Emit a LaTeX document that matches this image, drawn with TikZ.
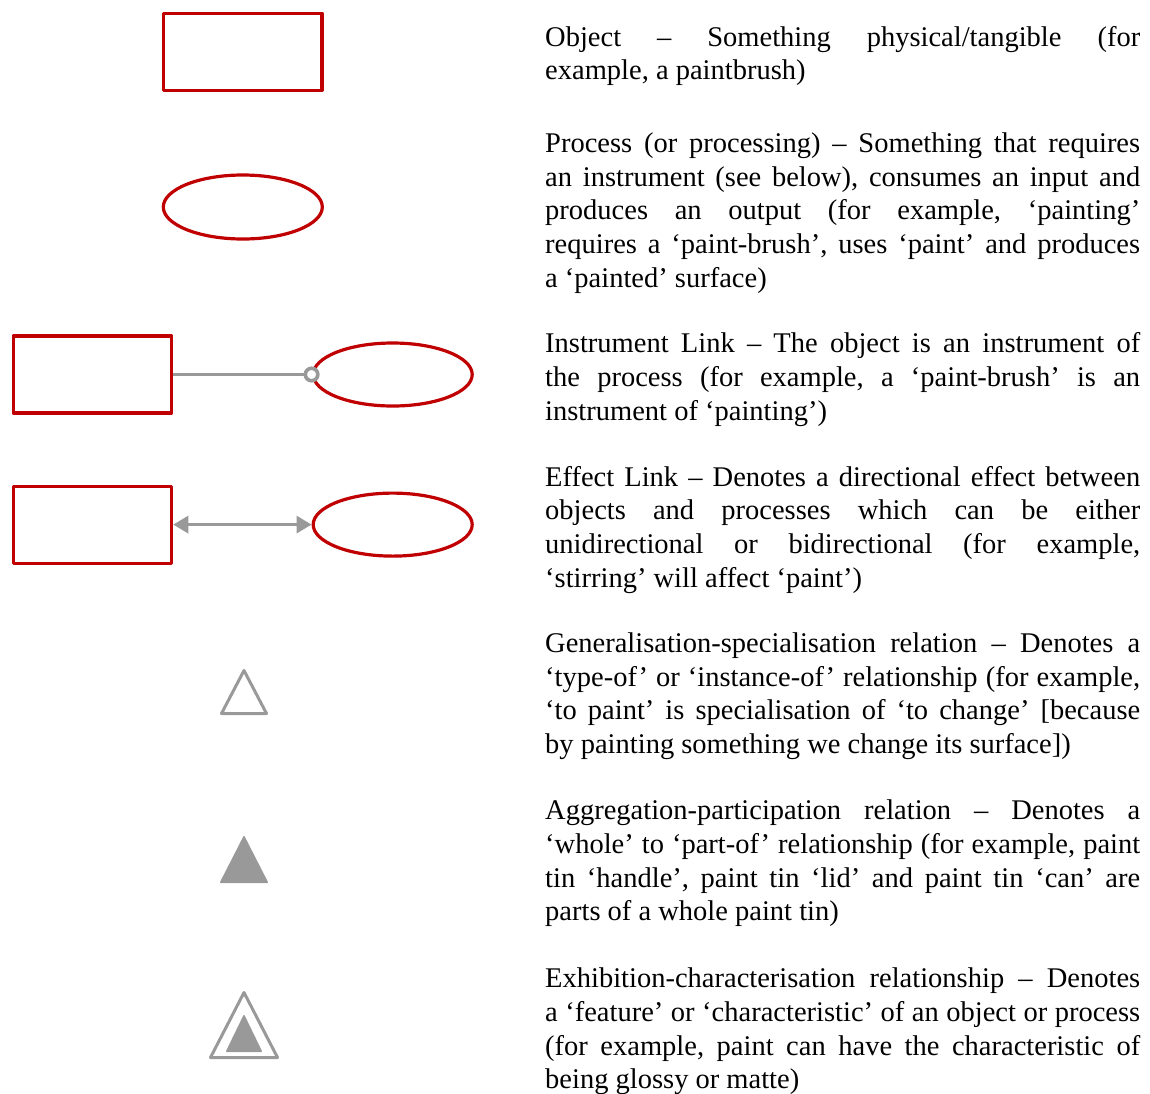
\documentclass[tikz,border=0pt]{standalone}
\usepackage{fontspec}
\setmainfont{Liberation Serif}
\usetikzlibrary{shapes.geometric,arrows.meta}
\definecolor{oprRed}{HTML}{C00000}
\definecolor{linkGray}{HTML}{999999}
% description text: Times-like face, uniform stretchable inter-word spaces
\newcommand{\descfont}{\fontsize{28.5pt}{33.8pt}\selectfont\frenchspacing
  \spaceskip=0.25em plus 1fil minus 0.1em\relax}
% a justified line of a description and a closing (ragged) line
\newcommand{\fullline}[1]{\hbox to 595pt{#1}}
\newcommand{\lastline}[1]{\hbox{#1}}

\begin{document}
\begin{tikzpicture}[x=1pt,y=-1pt,
  objbox/.style={draw=oprRed, line width=3.2pt, line join=round, minimum width=158.5pt, minimum height=77pt, inner sep=0pt},
  procell/.style={ellipse, draw=oprRed, line width=3.2pt, minimum width=159pt, minimum height=64pt, inner sep=0pt},
  glink/.style={draw=linkGray, line width=3pt},
  pin/.style={circle, draw=linkGray, line width=3.6pt, fill=white, minimum size=12.5pt, inner sep=0pt},
  desc/.style={anchor=base west, inner sep=0pt},
  tri/.style={draw=linkGray, line width=3pt, line join=round},
  solidtri/.style={draw=linkGray, fill=linkGray, line width=1.5pt, line join=round}]

\useasboundingbox (0,0) rectangle (1150,1093);

% object and process symbols
\node[objbox] (obj) at (242.7,51.7) {};
\node[procell] (proc) at (242.8,207) {};

% instrument link
\node[objbox] (iobj) at (92.4,374.5) {};
\node[procell, minimum height=63pt] (iproc) at (392.7,374.5) {};
\draw[glink] (iobj.east) -- (iproc.west);
\node[pin] (ipin) at (iproc.west) {};

% effect link
\node[objbox] (eobj) at (92.4,524.6) {};
\node[procell, minimum height=63pt] (eproc) at (392.7,524.6) {};
\draw[glink, {Triangle[length=15pt,width=17pt]}-{Triangle[length=15pt,width=17pt]}] (eobj.east) -- (eproc.west);

% generalisation-specialisation
\draw[tri] (244,670.5) -- (266.5,713.5) -- (221.5,713.5) -- cycle;
% aggregation-participation
\filldraw[solidtri] (244,836.75) -- (267.25,882.25) -- (220.75,882.25) -- cycle;
% exhibition-characterisation
\draw[tri] (244,992.5) -- (277.5,1057.5) -- (210.5,1057.5) -- cycle;
\filldraw[solidtri] (244,1015.75) -- (261.25,1051.25) -- (226.75,1051.25) -- cycle;

% descriptions
\node[desc] (t1) at (545,46) {\vtop{\descfont
\fullline{Object – Something physical/tangible (for}
\lastline{example, a paintbrush)}}};

\node[desc] (t2) at (545,152.2) {\vtop{\descfont
\fullline{Process (or processing) – Something that requires}
\fullline{an instrument (see below), consumes an input and}
\fullline{produces an output (for example, ‘painting’}
\fullline{requires a ‘paint-brush’, uses ‘paint’ and produces}
\lastline{a ‘painted’ surface)}}};

\node[desc] (t3) at (545,352.8) {\vtop{\descfont
\fullline{Instrument Link – The object is an instrument of}
\fullline{the process (for example, a ‘paint-brush’ is an}
\lastline{instrument of ‘painting’)}}};

\node[desc] (t4) at (545,486) {\vtop{\descfont
\fullline{Effect Link – Denotes a directional effect between}
\fullline{objects and processes which can be either}
\fullline{unidirectional or bidirectional (for example,}
\lastline{‘stirring’ will affect ‘paint’)}}};

\node[desc] (t5) at (545,652.2) {\vtop{\descfont
\fullline{Generalisation-specialisation relation – Denotes a}
\fullline{‘type-of’ or ‘instance-of’ relationship (for example,}
\fullline{‘to paint’ is specialisation of ‘to change’ [because}
\lastline{by painting something we change its surface])}}};

\node[desc] (t6) at (545,819.5) {\vtop{\descfont
\fullline{Aggregation-participation relation – Denotes a}
\fullline{‘whole’ to ‘part-of’ relationship (for example, paint}
\fullline{tin ‘handle’, paint tin ‘lid’ and paint tin ‘can’ are}
\lastline{parts of a whole paint tin)}}};

\node[desc] (t7) at (545,987.5) {\vtop{\descfont
\fullline{Exhibition-characterisation relationship – Denotes}
\fullline{a ‘feature’ or ‘characteristic’ of an object or process}
\fullline{(for example, paint can have the characteristic of}
\lastline{being glossy or matte)}}};

\end{tikzpicture}
\end{document}
